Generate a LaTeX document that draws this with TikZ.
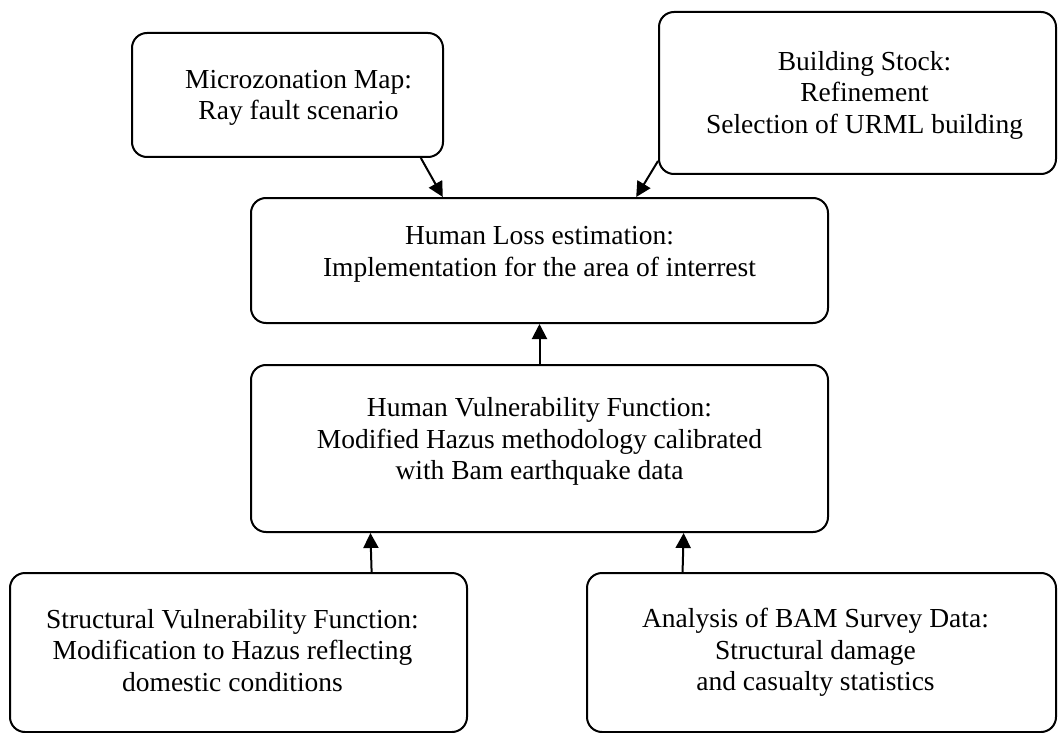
\documentclass[tikz,border=0pt]{standalone}
\usepackage{fontspec}
\setmainfont{Liberation Serif}
\usetikzlibrary{arrows.meta,calc}
\tikzset{
  box/.style={draw, line width=2pt, rounded corners=15pt, inner sep=0pt},
  txt/.style={align=center, inner sep=0pt, font=\fontsize{27.5}{31.5}\selectfont},
  arr/.style={line width=2pt, -{Triangle[length=15pt,width=15pt]}}
}
\begin{document}
\begin{tikzpicture}[x=1pt,y=-1pt]
\useasboundingbox (0,0) rectangle (1058,733);
\node[box, minimum width=311pt, minimum height=124pt] (micro) at (287.5,95) {};
\node[box, minimum width=397pt, minimum height=162pt] (stock) at (857.5,93) {};
\node[box, minimum width=577pt, minimum height=125pt] (loss) at (539.5,260.5) {};
\node[box, minimum width=577pt, minimum height=167pt] (vuln) at (539.5,448.5) {};
\node[box, minimum width=457pt, minimum height=159pt] (struct) at (238.5,652.5) {};
\node[box, minimum width=469pt, minimum height=159pt] (bam) at (821.5,652.5) {};
\node[txt] (microtxt) at ($(micro)+(11,3)$) {Microzonation Map:\\Ray fault scenario};
\node[txt] (stocktxt) at ($(stock)+(7,2)$) {Building Stock:\\Refinement\\Selection of URML building};
\node[txt] (losstxt) at ($(loss)+(0,-6)$) {Human Loss estimation:\\Implementation for the area of interrest};
\node[txt] (vulntxt) at ($(vuln)+(0,-7)$) {Human Vulnerability Function:\\Modified Hazus methodology calibrated\\with Bam earthquake data};
\node[txt] (structtxt) at ($(struct)+(-6,-2)$) {Structural Vulnerability Function:\\Modification to Hazus reflecting\\domestic conditions};
\node[txt] (bamtxt) at ($(bam)+(-6,0)$) {Analysis of BAM Survey Data:\\Structural damage\\and casualty statistics};
\draw[arr] ($(micro.south west)!0.926!(micro.south east)$) -- ($(loss.north west)!0.333!(loss.north east)$);
\draw[arr] ($(stock.south west)+(0,-14)$) -- ($(loss.north west)!0.667!(loss.north east)$);
\draw[arr] (vuln.north) -- (loss.south);
\draw[arr] ($(struct.north west)!0.79!(struct.north east)$) -- ($(vuln.south west)!0.208!(vuln.south east)$);
\draw[arr] ($(bam.north west)!0.205!(bam.north east)$) -- ($(vuln.south west)!0.749!(vuln.south east)$);
\end{tikzpicture}
\end{document}
